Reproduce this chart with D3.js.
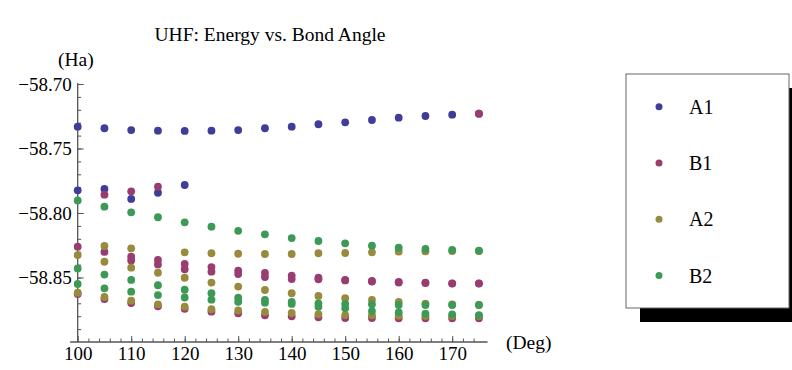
<!DOCTYPE html>
<html>
<head>
<meta charset="utf-8">
<script src="https://cdn.jsdelivr.net/npm/d3@7"></script>
<style>
  body { margin: 0; background: #fff; }
  svg text { font-family: "Liberation Serif", "Times New Roman", serif; fill: #000; }
</style>
</head>
<body>
<div class="container"></div>
<script>
const width = 792;
const height = 370;

// bond angle (deg)
const angles = [100, 105, 110, 115, 120, 125, 130, 135, 140, 145, 150, 155, 160, 165, 170, 175];

// energies (Ha), several states per symmetry
const a1_1 = [-58.7331, -58.7343, -58.7357, -58.7362, -58.7364, -58.7362, -58.7357, -58.7343, -58.7331, -58.7312, -58.7297, -58.7279, -58.7261, -58.7248, -58.7238, -58.7230];
const a1_2 = [-58.7824, -58.7814, -58.7891, -58.7843, -58.7783, null, null, null, null, null, null, null, null, null, null, null];

const b1_1 = [null, -58.7858, -58.7832, -58.7796, null, null, null, null, null, null, null, null, null, null, null, -58.7230];
const b1_2 = [-58.8261, -58.8302, -58.8339, -58.8364, -58.8395, -58.8419, -58.8446, -58.8465, -58.8485, -58.8502, -58.8519, -58.8527, -58.8535, -58.8539, -58.8545, -58.8545];
const b1_3 = [null, null, -58.8368, -58.8399, -58.8436, -58.8455, -58.8473, -58.8496, -58.8512, -58.8514, -58.8523, -58.8531, -58.8539, -58.8543, -58.8547, -58.8547];
const b1_4 = [-58.8628, -58.8667, -58.8698, -58.8723, -58.8743, -58.8765, -58.8778, -58.8793, -58.8801, -58.8809, -58.8814, -58.8814, -58.8816, -58.8816, -58.8816, -58.8816];

const a2_1 = [null, -58.8256, -58.8274, null, -58.8305, -58.8312, -58.8316, -58.8318, -58.8318, -58.8312, -58.8310, -58.8305, -58.8300, -58.8298, -58.8295, -58.8295];
const a2_2 = [-58.8326, -58.8378, -58.8424, -58.8463, -58.8502, -58.8539, -58.8570, -58.8597, -58.8622, -58.8643, -58.8661, -58.8674, -58.8690, -58.8702, -58.8709, -58.8713];
const a2_3 = [-58.8618, -58.8651, -58.8680, -58.8708, -58.8726, -58.8746, -58.8756, -58.8767, -58.8775, -58.8785, -58.8791, -58.8793, -58.8796, -58.8798, -58.8798, -58.8798];

const b2_1 = [-58.7903, -58.7951, -58.7995, -58.8033, -58.8072, -58.8106, -58.8138, -58.8165, -58.8194, -58.8217, -58.8235, -58.8253, -58.8269, -58.8279, -58.8287, -58.8292];
const b2_2 = [-58.8430, -58.8477, -58.8519, -58.8560, -58.8595, -58.8622, -58.8657, -58.8674, -58.8690, -58.8700, -58.8705, -58.8708, -58.8713, -58.8713, -58.8713, -58.8713];
const b2_3 = [-58.8550, -58.8584, -58.8610, -58.8636, -58.8655, -58.8672, -58.8688, -58.8695, -58.8705, -58.8726, -58.8739, -58.8760, -58.8770, -58.8781, -58.8786, -58.8791];

const seriesNames = ['A1', 'B1', 'A2', 'B2'];
const seriesRows = [[a1_1, a1_2], [b1_1, b1_2, b1_3, b1_4], [a2_1, a2_2, a2_3], [b2_1, b2_2, b2_3]];
const colors = ['#3f3d99', '#993d71', '#998b3d', '#3d9956'];

const yMajor = [-58.70, -58.75, -58.80, -58.85];
const xMajor = [100, 110, 120, 130, 140, 150, 160, 170];

const svg = d3.select('.container')
    .append('svg')
    .attr('width', width)
    .attr('height', height);

const x = d3.scaleLinear().domain([98.6, 176.6]).range([70.2, 487.5]);
const y = d3.scaleLinear().domain([-58.90, -58.70]).range([342, 84]);

// title
svg.append('text')
    .attr('x', 270)
    .attr('y', 41)
    .attr('text-anchor', 'middle')
    .style('font-size', '19.5px')
    .text('UHF: Energy vs. Bond Angle');

// y axis: minor then major
const yAxisG = svg.append('g').attr('transform', `translate(${x(100)},0)`);
yAxisG.append('g')
    .call(d3.axisLeft(y).tickValues(d3.range(-58.89, -58.695, 0.01)).tickSize(-3.5).tickFormat(''));
yAxisG.append('g')
    .call(d3.axisLeft(y).tickValues(yMajor).tickSize(-6).tickPadding(6).tickFormat(d3.format('.2f')))
    .selectAll('text').style('font-size', '19px').style('font-family', '"Liberation Serif", serif');

// x axis
const xAxisG = svg.append('g').attr('transform', `translate(0,${y(-58.90)})`);
xAxisG.append('g')
    .call(d3.axisBottom(x).tickValues(d3.range(102, 176, 2)).tickSize(-3.5).tickFormat(''));
xAxisG.append('g')
    .call(d3.axisBottom(x).tickValues(xMajor).tickSize(-6).tickPadding(5).tickFormat(d3.format('d')))
    .selectAll('text').style('font-size', '19px').style('font-family', '"Liberation Serif", serif');

svg.selectAll('.domain').attr('stroke', '#555');
svg.selectAll('.tick line').attr('stroke', '#555');
xAxisG.selectAll('.domain').attr('d', `M${x(98.6)},0H${x(176.6)}`);
yAxisG.selectAll('.domain').attr('d', `M0,${y(-58.70) - 1}V${y(-58.90)}`);

svg.append('text').attr('x', 58).attr('y', 66).style('font-size', '19.5px').text('(Ha)');
svg.append('text').attr('x', 506).attr('y', 349).style('font-size', '19.5px').text('(Deg)');

// points
seriesRows.forEach((rows, i) => {
    const pts = [];
    rows.forEach(row => row.forEach((v, j) => { if (v !== null) pts.push([angles[j], v]); }));
    svg.append('g')
        .selectAll('circle')
        .data(pts)
        .enter()
        .append('circle')
        .attr('cx', d => x(d[0]))
        .attr('cy', d => y(d[1]))
        .attr('r', 3.9)
        .attr('fill', colors[i]);
});

// legend
const legend = svg.append('g');
legend.append('rect').attr('x', 640).attr('y', 88).attr('width', 163).attr('height', 234).attr('fill', '#000');
legend.append('rect').attr('x', 626).attr('y', 74).attr('width', 163).attr('height', 234)
    .attr('fill', '#fff').attr('stroke', '#666').attr('stroke-width', 1);
const ly = d3.scalePoint().domain(seriesNames).range([106.7, 275.5]);
seriesNames.forEach((name, i) => {
    legend.append('circle').attr('cx', 659).attr('cy', ly(name)).attr('r', 3.5).attr('fill', colors[i]);
    legend.append('text').attr('x', 689).attr('y', ly(name) + 7).style('font-size', '20px').text(name);
});
</script>
</body>
</html>
